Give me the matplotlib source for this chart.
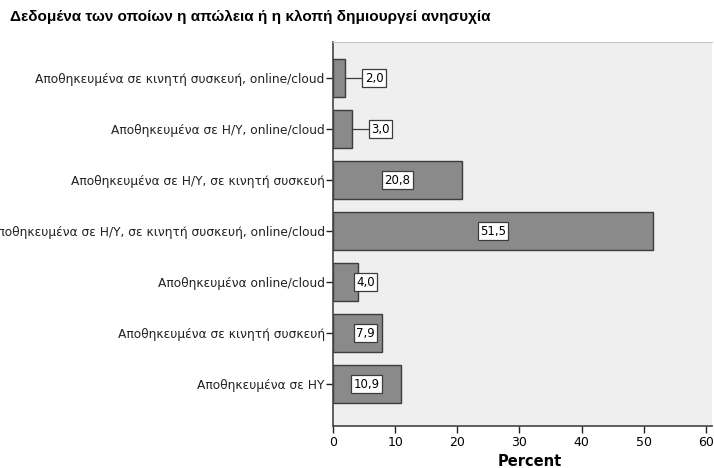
import numpy as np
import matplotlib
matplotlib.use('Agg')
import matplotlib.pyplot as plt

plt.rcParams['font.family'] = ['DejaVu Sans']

title = 'Δεδομένα των οποίων η απώλεια ή η κλοπή δημιουργεί ανησυχία'
categories = ['Αποθηκευμένα σε κινητή συσκευή, online/cloud',
              'Αποθηκευμένα σε Η/Υ, online/cloud',
              'Αποθηκευμένα σε Η/Υ, σε κινητή συσκευή',
              'Αποθηκευμένα σε Η/Υ, σε κινητή συσκευή, online/cloud',
              'Αποθηκευμένα online/cloud',
              'Αποθηκευμένα σε κινητή συσκευή',
              'Αποθηκευμένα σε ΗΥ']
percent = [2.0, 3.0, 20.8, 51.5, 4.0, 7.9, 10.9]
xticks = [0, 10, 20, 30, 40, 50, 60]

fig = plt.figure(figsize=(7.14, 4.68), dpi=100)
ax = fig.add_axes([333 / 714, 1 - 426 / 468, 379 / 714, 384 / 468])
ax.set_facecolor('#efefef')

y = np.arange(len(categories))
ax.barh(y, percent, height=0.75, color='#8a8a8a', edgecolor='#3c3c3c', lw=1.0)

for yi, v in zip(y, percent):
    txt = ('%.1f' % v).replace('.', ',')
    if v < 4:
        cx = v + 4.6
        ax.plot([v, cx - 1.9], [yi, yi], color='#3c3c3c', lw=0.9)
    else:
        cx = max(v / 2, 5.2)
    ax.text(cx, yi, txt, ha='center', va='center', fontsize=8.5, color='black',
            bbox=dict(boxstyle='square,pad=0.2', fc='white', ec='#3c3c3c', lw=0.9))

ax.set_yticks(y)
ax.set_yticklabels(categories, fontsize=8.8, color='#222222')
ax.set_xticks(xticks)
ax.set_xticklabels([str(t) for t in xticks], fontsize=9)
ax.set_xlim(0, 61)
ax.set_ylim(6.82, -0.71)
ax.tick_params(axis='y', length=5, width=1, color='#222222', pad=1)
ax.tick_params(axis='x', length=5, width=1, color='#222222', pad=2)

for s in ['left', 'bottom']:
    ax.spines[s].set_color('#444444')
    ax.spines[s].set_linewidth(1.2)
ax.spines['top'].set_color('#c8c8c8')
ax.spines['right'].set_visible(False)

fig.text(530 / 714, 1 - 461 / 468, 'Percent', fontsize=10.5, fontweight='bold',
         ha='center', va='center')
fig.text(10 / 714, 1 - 17 / 468, title, fontsize=11, fontweight='bold', va='center',
         ha='left', family='Liberation Sans')

fig.savefig('out.png', dpi=100)
